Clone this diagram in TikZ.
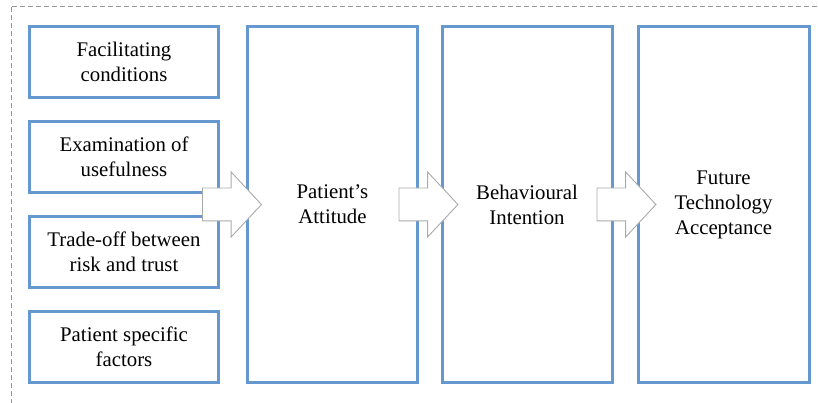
\documentclass[tikz,border=0pt]{standalone}
\usepackage{fontspec}
\setmainfont{Liberation Serif}
\newfontfamily\boxfont{Liberation Serif}
\usetikzlibrary{shapes.arrows,calc}
\definecolor{boxblue}{RGB}{100,152,206}
\definecolor{framegray}{RGB}{150,150,150}
\definecolor{arrowgray}{RGB}{170,170,170}

\begin{document}
\begin{tikzpicture}[x=1pt,y=-1pt]
  \tikzset{box/.style={draw=boxblue,line width=3pt,fill=white,align=center,inner sep=2pt,
      font=\boxfont\fontsize{20.8}{25}\selectfont},
    smallbox/.style={box,minimum width=189pt,minimum height=71pt},
    tallbox/.style={box,minimum width=170pt,minimum height=356pt},
    fatarrow/.style={single arrow,draw=arrowgray,line width=0.9pt,fill=white,anchor=tail,
      inner xsep=0pt,inner ysep=16pt,minimum height=59pt,
      single arrow head extend=16pt,single arrow tip angle=94}}%
\useasboundingbox (0,0) rectangle (818,403);
\clip (0,0) rectangle (818,403);
\draw[framegray,line width=1pt,dash pattern=on 5pt off 3pt] (11,7) rectangle (830,415);
% input factors
\node[smallbox] (facil) at (124,62) {Facilitating\\conditions};
\node[smallbox] (useful) at (124,157) {Examination of\\usefulness};
\node[smallbox] (tradeoff) at (124,252) {Trade-off between\\risk and trust};
\node[smallbox] (specific) at (124,347) {Patient specific\\factors};
% stages
\node[tallbox] (attitude) at (332.5,204.5) {Patient’s\\Attitude};
\node[tallbox] (intention) at (527,204.5) {Behavioural\\Intention};
\node[tallbox,minimum width=171pt] (acceptance) at (723.5,204.5) {Future\\Technology\\Acceptance};
% block arrows
\node[fatarrow] (toattitude) at ($(attitude.west)+(-44,0)$) {};
\node[fatarrow] (tointention) at ($(intention.west)+(-42,0)$) {};
\node[fatarrow] (toacceptance) at ($(acceptance.west)+(-40,0)$) {};
\end{tikzpicture}
\end{document}
